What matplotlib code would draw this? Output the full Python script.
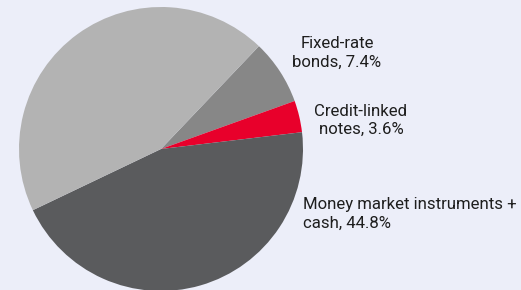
import matplotlib.pyplot as plt

labels = ["Fixed-rate\nbonds, 7.4%", "Credit-linked\nnotes, 3.6%",
          "Money market instruments +\ncash, 44.8%", ""]
shares = [7.4, 3.6, 44.8, 44.2]
colors = ["#878787", "#E8002B", "#5A5B5D", "#B3B3B3"]

bg = "#ECEEF9"
plt.rcParams["font.family"] = ["Roboto", "DejaVu Sans"]

fig = plt.figure(figsize=(5.21, 2.90), dpi=100, facecolor=bg)
ax = fig.add_axes([0, 0, 1, 1])
ax.set_facecolor(bg)

ax.pie(shares, colors=colors, startangle=46.4, counterclock=False,
       center=(161, 141), radius=142, frame=True,
       wedgeprops=dict(linewidth=0))
ax.set_xlim(0, 521)
ax.set_ylim(0, 290)
ax.set_aspect("equal")
ax.axis("off")

# slice labels
label_style = dict(va="center", fontsize=12.1, color="#1E1E1E", linespacing=1.25)
ax.text(337, 237, labels[0], ha="center", **label_style)
ax.text(361, 170, labels[1], ha="center", **label_style)
ax.text(303, 76, labels[2], ha="left", **label_style)

fig.savefig("out.png", dpi=100, facecolor=bg)
